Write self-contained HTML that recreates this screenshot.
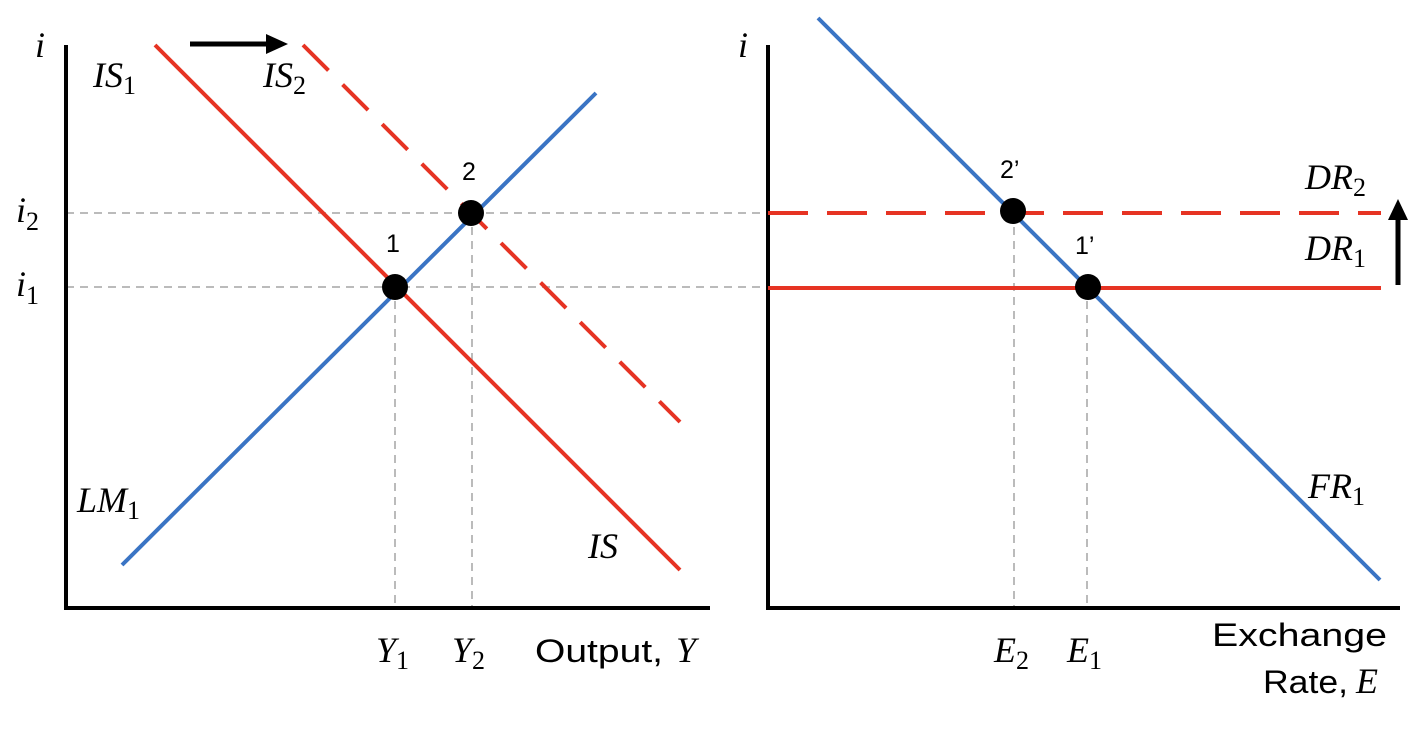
<!DOCTYPE html>
<html><head><meta charset="utf-8"><style>
body{margin:0;background:#fff;}
svg text{font-family:"Liberation Serif",serif;font-style:italic;font-size:36px;fill:#000;}
svg text tspan.b{font-size:26px;font-style:normal;}
svg text.s{font-family:"Liberation Sans",sans-serif;font-style:normal;font-size:25px;}
svg text.o{font-family:"Liberation Sans",sans-serif;font-style:normal;font-size:32px;}
</style></head><body>
<svg width="1420" height="724" viewBox="0 0 1420 724" xmlns="http://www.w3.org/2000/svg">
<g stroke="#bbb" stroke-width="2" stroke-dasharray="8,6" fill="none">
<line x1="66" y1="213" x2="768" y2="213"/>
<line x1="66" y1="287" x2="768" y2="287"/>
<line x1="395" y1="287" x2="395" y2="608"/>
<line x1="472" y1="213" x2="472" y2="608"/>
<line x1="1014" y1="213" x2="1014" y2="608"/>
<line x1="1087" y1="287" x2="1087" y2="608"/>
</g>
<g stroke="#000" stroke-width="4" fill="none">
<polyline points="66,45 66,608 710,608"/>
<polyline points="768,45 768,608 1400,608"/>
</g>
<line x1="155" y1="45" x2="680" y2="570" stroke="#e63323" stroke-width="4"/>
<line x1="303" y1="45" x2="680" y2="422" stroke="#e63323" stroke-width="4" stroke-dasharray="36,20"/>
<line x1="122" y1="565" x2="596" y2="93" stroke="#3a74c4" stroke-width="4"/>
<line x1="768" y1="213" x2="1381" y2="213" stroke="#e63323" stroke-width="4" stroke-dasharray="40,19"/>
<line x1="768" y1="288" x2="1381" y2="288" stroke="#e63323" stroke-width="4"/>
<line x1="818" y1="18" x2="1380" y2="580" stroke="#3a74c4" stroke-width="4"/>
<line x1="190" y1="44" x2="270" y2="44" stroke="#000" stroke-width="5"/>
<polygon points="266,34 288,44 266,54" fill="#000"/>
<line x1="1398" y1="285" x2="1398" y2="216" stroke="#000" stroke-width="5"/>
<polygon points="1388,220 1398,199 1408,220" fill="#000"/>
<g fill="#000">
<circle cx="395" cy="287" r="13"/>
<circle cx="471" cy="213" r="13"/>
<circle cx="1013" cy="211" r="13"/>
<circle cx="1088" cy="287" r="13"/>
</g>
<text class="s" x="386" y="252">1</text>
<text class="s" x="462" y="180">2</text>
<text class="s" x="1000" y="178">2’</text>
<text class="s" x="1075" y="254">1’</text>
<text x="35" y="57">i</text>
<text x="738" y="57">i</text>
<text x="93" y="87">IS<tspan class="b" dy="7">1</tspan></text>
<text x="263" y="87">IS<tspan class="b" dy="7">2</tspan></text>
<text x="16" y="222">i<tspan class="b" dy="8">2</tspan></text>
<text x="16" y="296">i<tspan class="b" dy="8">1</tspan></text>
<text x="77" y="512">LM<tspan class="b" dy="7">1</tspan></text>
<text x="588" y="558">IS</text>
<text x="376" y="662">Y<tspan class="b" dy="7">1</tspan></text>
<text x="452" y="662">Y<tspan class="b" dy="7">2</tspan></text>
<text class="o" x="535" y="662" textLength="128" lengthAdjust="spacingAndGlyphs">Output,</text>
<text x="676" y="662">Y</text>
<text x="1305" y="189">DR<tspan class="b" dy="7">2</tspan></text>
<text x="1305" y="260">DR<tspan class="b" dy="7">1</tspan></text>
<text x="1308" y="498">FR<tspan class="b" dy="7">1</tspan></text>
<text x="994" y="662">E<tspan class="b" dy="7">2</tspan></text>
<text x="1067" y="662">E<tspan class="b" dy="7">1</tspan></text>
<text class="o" x="1212" y="646" textLength="175" lengthAdjust="spacingAndGlyphs">Exchange</text>
<text class="o" x="1263" y="693" textLength="85" lengthAdjust="spacingAndGlyphs">Rate,</text>
<text x="1356" y="693">E</text>
</svg>
</body></html>
